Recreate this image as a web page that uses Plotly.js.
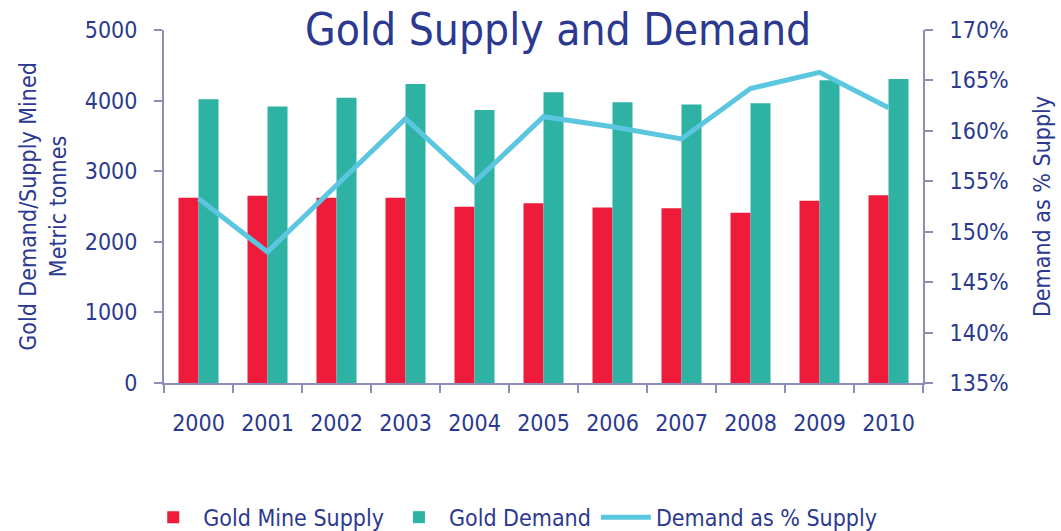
<!DOCTYPE html>
<html>
<head>
<meta charset="utf-8">
<script src="https://cdn.plot.ly/plotly-3.0.1.min.js"></script>
<style>
  html, body { margin: 0; padding: 0; background: #fff; }
  #chart { width: 1061px; height: 531px; }
</style>
</head>
<body>
<div id="chart"></div>
<script>
var years = ['2000', '2001', '2002', '2003', '2004', '2005', '2006', '2007', '2008', '2009', '2010'];
var mineSupply = [2623, 2651, 2623, 2623, 2495, 2547, 2486, 2476, 2410, 2580, 2660];
var goldDemand = [4019, 3915, 4042, 4236, 3868, 4118, 3976, 3943, 3962, 4288, 4307];
var demandPct = [1.533, 1.480, 1.546, 1.612, 1.549, 1.614, 1.604, 1.592, 1.642, 1.658, 1.623];

var fontFam = '"Liberation Sans Narrow", "DejaVu Sans Condensed", Arial, sans-serif';
var navy = '#2b3990';
var axisGrey = '#8c8fb5';

var data = [
  {
    x: years, y: mineSupply, name: 'Gold Mine Supply', type: 'bar',
    marker: {color: '#ee1c3a'}
  },
  {
    x: years, y: goldDemand, name: 'Gold Demand', type: 'bar',
    marker: {color: '#2eb2a4'}
  },
  {
    x: years, y: demandPct, name: 'Demand as % Supply', type: 'scatter', mode: 'lines',
    yaxis: 'y2',
    line: {color: '#5bc6e0', width: 5}
  }
];

var layout = {
  width: 1061, height: 531,
  margin: {l: 164, r: 138, t: 30, b: 148},
  font: {family: fontFam, color: navy, size: 23},
  paper_bgcolor: '#fff', plot_bgcolor: '#fff',
  title: {
    text: 'Gold Supply and Demand',
    font: {family: fontFam, size: 44, color: navy},
    x: 0.526, xanchor: 'center', y: 0.945, yanchor: 'middle'
  },
  barmode: 'group',
  bargap: 0.42,
  bargroupgap: 0,
  showlegend: true,
  legend: {
    orientation: 'h',
    xref: 'container', x: 0.135, xanchor: 'left',
    yref: 'container', y: 0.026, yanchor: 'middle',
    itemwidth: 50,
    font: {family: fontFam, size: 23, color: navy},
    traceorder: 'normal'
  },
  xaxis: {
    type: 'category',
    showline: true, linecolor: axisGrey, linewidth: 2,
    ticks: 'outside', tickson: 'boundaries', ticklen: 8, tickcolor: axisGrey, tickwidth: 2,
    ticklabelstandoff: 18,
    showgrid: false, zeroline: false,
    tickfont: {family: fontFam, size: 23, color: navy},
    automargin: false
  },
  yaxis: {
    range: [0, 5000], dtick: 1000,
    showline: true, linecolor: axisGrey, linewidth: 2,
    ticks: 'outside', ticklen: 8, tickcolor: axisGrey, tickwidth: 2,
    ticklabelstandoff: 12,
    showgrid: false, zeroline: false,
    tickfont: {family: fontFam, size: 23, color: navy},
    title: {
      text: 'Gold Demand/Supply Mined<br>Metric tonnes',
      font: {family: fontFam, size: 23, color: navy},
      standoff: 12
    },
    automargin: false
  },
  yaxis2: {
    overlaying: 'y', side: 'right',
    range: [1.35, 1.70], dtick: 0.05, tickformat: '.0%',
    showline: true, linecolor: axisGrey, linewidth: 2,
    ticks: 'outside', ticklen: 8, tickcolor: axisGrey, tickwidth: 2,
    ticklabelstandoff: 12,
    showgrid: false, zeroline: false,
    tickfont: {family: fontFam, size: 23, color: navy},
    title: {
      text: 'Demand as % Supply',
      font: {family: fontFam, size: 23, color: navy},
      standoff: 26
    },
    automargin: false
  }
};

Plotly.newPlot('chart', data, layout, {displayModeBar: false, staticPlot: true});
</script>
</body>
</html>
